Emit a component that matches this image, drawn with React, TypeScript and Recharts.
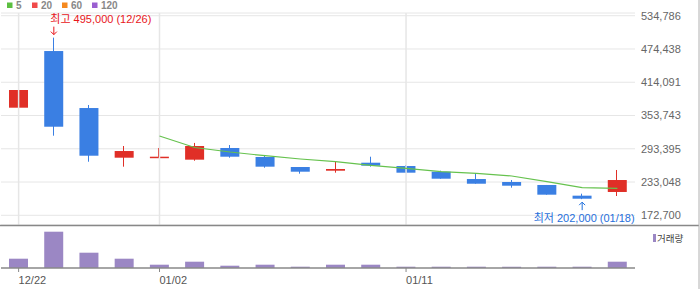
import React from 'react';
import { ComposedChart, Bar, Line, XAxis, YAxis, CartesianGrid, ReferenceLine, ReferenceDot } from 'recharts';

const dates = ['12/22', '12/26', '12/27', '12/28', '01/02', '01/03', '01/04', '01/05', '01/08', '01/09', '01/10', '01/11', '01/12', '01/15', '01/16', '01/17', '01/18', '01/19'];
const opens = [367900, 470700, 367300, 277200, 278000, 273600, 294800, 278500, 260300, 253600, 268100, 262100, 251800, 238500, 233100, 227700, 208300, 215000];
const highs = [400000, 495000, 372800, 298400, 294800, 304000, 300200, 282100, 260300, 271200, 279000, 263900, 253600, 249400, 236700, 227700, 211900, 254900];
const lows = [349700, 317100, 269900, 260900, 278000, 271700, 277200, 259000, 248200, 250000, 260900, 250000, 239100, 230000, 222800, 210100, 202000, 207700];
const closes = [400000, 333400, 280800, 289300, 279000, 298400, 279000, 260900, 251800, 256700, 262700, 250000, 239100, 230000, 226400, 210100, 202800, 236700];
const ma5 = [null, null, null, null, 316500, 295700, 287500, 280800, 274800, 269900, 263400, 257900, 251800, 248900, 244000, 233700, 222800, 221700];
const volumes = [93000, 363000, 153000, 93000, 33000, 63000, 23000, 33000, 13000, 33000, 33000, 13000, 13000, 13000, 13000, 13000, 13000, 63000];

const priceTicks = [172700, 233048, 293395, 353743, 414091, 474438, 534786];
const dateLabels = ['12/22', '01/02', '01/11'];
const maLegend = [
  { label: '5', color: '#5cbf40' },
  { label: '20', color: '#f04a4a' },
  { label: '60', color: '#f5891f' },
  { label: '120', color: '#9a5fd0' },
];

const RED = '#e02f27';
const BLUE = '#3a7fe3';
const PURPLE = '#9b87c4';
const FONT = '"Liberation Sans", "Noto Sans CJK KR", sans-serif';

const rows = dates.map((date, i) => ({
  date,
  open: opens[i],
  high: highs[i],
  low: lows[i],
  close: closes[i],
  ma5: ma5[i],
  volume: volumes[i],
}));

const hiIdx = highs.indexOf(Math.max(...highs));
const loIdx = lows.indexOf(Math.min(...lows));

function Candle(props: any) {
  const { x, y, width, height, payload } = props;
  const { open, close, high, low } = payload;
  const top = Math.min(y, y + height);
  const h = Math.abs(height);
  const toPx = (v: number) => (high === low ? top : top + ((high - v) / (high - low)) * h);
  const color = close >= open ? RED : BLUE;
  const bTop = toPx(Math.max(open, close));
  const bBot = toPx(Math.min(open, close));
  const cx = Math.round(x + width / 2) - 0.5;
  return (
    <g>
      <line x1={cx} x2={cx} y1={top} y2={top + h} stroke={color} strokeWidth={1} />
      <rect x={x} y={bTop} width={width} height={Math.max(bBot - bTop, 1.5)} fill={color} />
    </g>
  );
}

function HighMark(p: any) {
  const { cx, cy } = p;
  return (
    <g>
      <text x={cx - 3.5} y={cy - 19} dominantBaseline="central" fill="#e8151b" fontSize={11} fontFamily={FONT}>
        {`최고 ${highs[hiIdx].toLocaleString()} (${dates[hiIdx]})`}
      </text>
      <line x1={cx} x2={cx} y1={cy - 11} y2={cy - 3} stroke="#e8151b" strokeWidth={1} />
      <polyline points={`${cx - 3},${cy - 6} ${cx},${cy - 3} ${cx + 3},${cy - 6}`} fill="none" stroke="#e8151b" strokeWidth={1} />
    </g>
  );
}

function LowMark(p: any) {
  const { cx, cy } = p;
  return (
    <g>
      <line x1={cx} x2={cx} y1={cy + 3} y2={cy + 11} stroke="#1f6fdc" strokeWidth={1} />
      <polyline points={`${cx - 3},${cy + 6} ${cx},${cy + 3} ${cx + 3},${cy + 6}`} fill="none" stroke="#1f6fdc" strokeWidth={1} />
      <text x={cx + 52.5} y={cy + 19} dominantBaseline="central" textAnchor="end" fill="#1f6fdc" fontSize={11} fontFamily={FONT}>
        {`최저 ${lows[loIdx].toLocaleString()} (${dates[loIdx]})`}
      </text>
    </g>
  );
}

function DateTick(props: any) {
  const { x, y, payload } = props;
  if (!dateLabels.includes(payload.value)) return <g />;
  return (
    <g>
      <line x1={x} x2={x} y1={y} y2={y + 4} stroke="#888" strokeWidth={1} />
      <text x={x} y={y + 12} dominantBaseline="central" fill="#555" fontSize={11} fontFamily={FONT}>
        {payload.value}
      </text>
    </g>
  );
}

export default function App() {
  return (
    <div style={{ position: 'absolute', left: 0, top: 0, width: 700, height: 289, background: '#fff', fontFamily: FONT }}>
      <div style={{ position: 'absolute', left: 0, top: 0 }}>
        <ComposedChart width={700} height={226} data={rows} margin={{ top: 13, right: 0, bottom: 1, left: 1 }}>
          <CartesianGrid vertical={false} stroke="#e6e6e6" />
          <XAxis dataKey="date" hide />
          <YAxis
            orientation="right"
            width={65}
            domain={[155100, 539700]}
            ticks={priceTicks}
            allowDataOverflow
            axisLine={false}
            tickLine={false}
            tickSize={0}
            tickMargin={6}
            tickFormatter={(v: number) => v.toLocaleString()}
            tick={{ fill: '#666', fontSize: 11, fontFamily: FONT }}
          />
          {dateLabels.map((d) => (
            <ReferenceLine key={d} x={d} stroke="#e6e6e6" strokeWidth={1.5} />
          ))}
          <Line dataKey="ma5" stroke="#66c24e" strokeWidth={1.2} dot={false} isAnimationActive={false} />
          <Bar dataKey={(d: any) => [d.low, d.high]} barSize={19} shape={<Candle />} isAnimationActive={false} />
          <ReferenceDot x={dates[hiIdx]} y={highs[hiIdx]} r={0} ifOverflow="visible" shape={(p: any) => <HighMark {...p} />} />
          <ReferenceDot x={dates[loIdx]} y={lows[loIdx]} r={0} ifOverflow="visible" shape={(p: any) => <LowMark {...p} />} />
        </ComposedChart>
      </div>
      <div style={{ position: 'absolute', left: 0, top: 226 }}>
        <ComposedChart width={700} height={63} data={rows} margin={{ top: 0, right: 65, bottom: 0, left: 1 }}>
          <XAxis
            dataKey="date"
            height={21}
            interval={0}
            tickLine={false}
            tickSize={0}
            tickMargin={0}
            axisLine={{ stroke: '#888', strokeWidth: 1.5 }}
            tick={<DateTick />}
          />
          <YAxis hide domain={[0, 420000]} />
          <Bar dataKey="volume" barSize={19} fill={PURPLE} isAnimationActive={false} />
        </ComposedChart>
      </div>
      <svg width={700} height={289} style={{ position: 'absolute', left: 0, top: 0, pointerEvents: 'none' }}>
        <line x1={0} x2={699} y1={225.5} y2={225.5} stroke="#888" strokeWidth={1.5} />
        <line x1={699} x2={699} y1={0} y2={289} stroke="#b0b0b0" strokeWidth={1} />
        {maLegend.map((m, i) => {
          const bx = [7, 32, 62, 92][i];
          return (
            <g key={m.label}>
              <rect x={bx} y={2.5} width={5.5} height={5.5} fill={m.color} />
              <text x={bx + 9} y={9} fill="#888" fontSize={10} fontWeight="bold" fontFamily={FONT}>
                {m.label}
              </text>
            </g>
          );
        })}
        <rect x={653} y={234} width={3} height={8} fill={PURPLE} />
        <text x={657} y={242} fill="#444" fontSize={9.5} fontFamily={FONT}>
          거래량
        </text>
      </svg>
    </div>
  );
}
